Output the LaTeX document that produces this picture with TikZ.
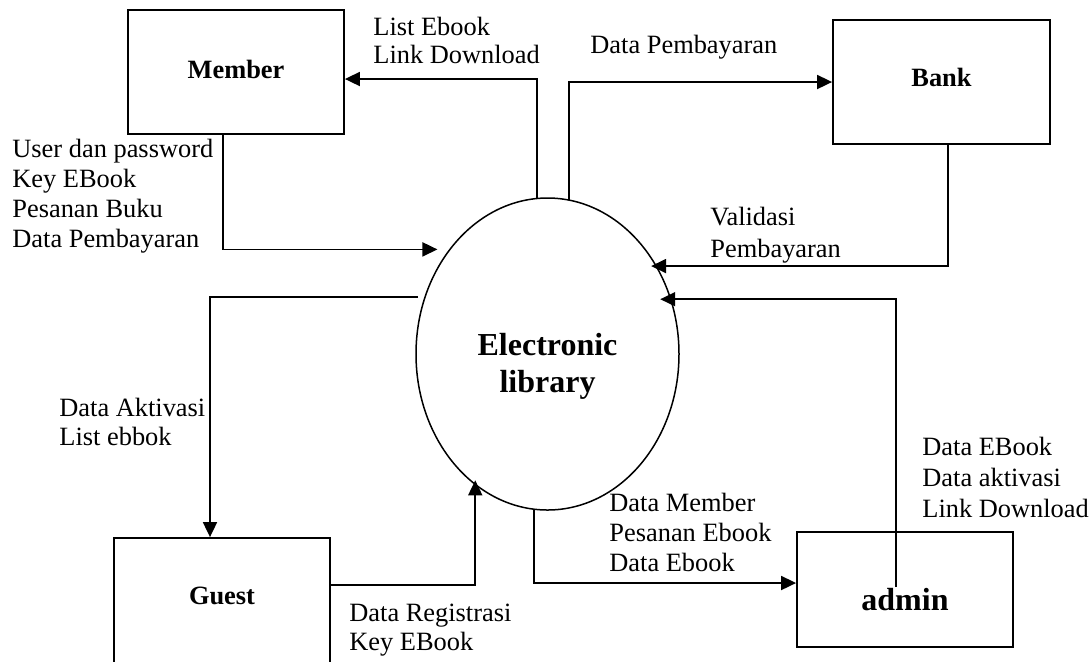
\documentclass[tikz,border=0pt]{standalone}
\usepackage{fontspec}
\setmainfont{Liberation Serif}
\usetikzlibrary{arrows.meta,shapes.geometric}

\tikzset{
  entity/.style={draw, line width=0.9pt, rectangle, inner sep=0pt,
    font=\fontsize{13.2}{15}\selectfont\bfseries},
  process/.style={draw, line width=0.75pt, ellipse, inner sep=0pt, outer sep=0pt,
    minimum width=131.5pt, minimum height=156pt},
  flow/.style={line width=0.9pt, -{Triangle[length=7.5pt,width=7pt]}},
  lbl/.style={anchor=north west, inner sep=0pt, align=left},
}

\begin{document}
\begin{tikzpicture}[x=0.5pt, y=-0.5pt]
  \useasboundingbox (0,0) rectangle (1092,661);
  \clip (0,0) rectangle (1092,661);

  % external entities
  \node[entity, minimum width=108pt, minimum height=62pt,
        text height=6.2pt, text depth=0pt] (member) at (236,72) {Member};
  \node[entity, minimum width=108.5pt, minimum height=62pt,
        text height=4.7pt, text depth=0pt] (bank) at (941.5,82) {Bank};
  \node[entity, minimum width=108pt, minimum height=66pt,
        text height=4pt, text depth=4pt] (guest) at (222,604) {Guest};
  \node[entity, minimum width=108pt, minimum height=57.5pt,
        font=\fontsize{16}{18}\selectfont\bfseries,
        text height=20.5pt, text depth=0pt] (admin) at (905,589.5) {admin};

  % the process
  \node[process] (lib) at (547.5,354) {};
  \node[align=center, inner sep=0pt, font=\fontsize{16}{18.5}\selectfont\bfseries]
    (libtext) at (547.5,366) {Electronic\\library};

  % data flows
  \draw[flow, shorten >=6.25pt] ([xshift=-6.5pt]member.south) |- (lib.133.3);
  \draw[flow] (lib.94.2) |- ([yshift=-3.5pt]member.east);
  \draw[flow] (lib.82.8) |- (bank.west);
  \draw[flow, shorten >=-2.5pt] ([xshift=3.25pt]bank.south) |- (lib.39);
  \draw[flow, shorten >=-5.2pt] ([xshift=-4.5pt,yshift=1.25pt]admin.center) |- (lib.24.07);
  \draw[flow, shorten <=3.5pt] (lib.155) -| ([xshift=-6pt]guest.north);
  \draw[flow, shorten >=-2pt] ([yshift=9.5pt]guest.east) -| (lib.241.4);
  \draw[flow] (lib.265.8) |- ([yshift=3.25pt]admin.west);

  % flow labels
  \node[lbl, font=\fontsize{13.2}{14}\selectfont] (lListEbook) at (373,17)
    {List Ebook\\Link Download};
  \node[lbl, font=\fontsize{13.2}{15}\selectfont] (lUser) at (12,139)
    {User dan password\\Key EBook\\Pesanan Buku\\Data Pembayaran};
  \node[lbl, font=\fontsize{13.2}{15}\selectfont] (lBayar) at (590,35)
    {Data Pembayaran};
  \node[lbl, font=\fontsize{13.2}{16}\selectfont] (lValid) at (710,207)
    {Validasi\\Pembayaran};
  \node[lbl, font=\fontsize{13.2}{14.5}\selectfont] (lAktivasi) at (59,398)
    {Data Aktivasi\\List ebbok};
  \node[lbl, font=\fontsize{13.2}{14.5}\selectfont] (lRegistrasi) at (349,604)
    {Data Registrasi\\Key EBook};
  \node[lbl, font=\fontsize{13.2}{15}\selectfont] (lMember) at (609,493)
    {Data Member\\Pesanan Ebook\\Data Ebook};
  \node[lbl, font=\fontsize{13.2}{15.5}\selectfont] (lAdmin) at (922,437)
    {Data EBook\\Data aktivasi\\Link Download};
\end{tikzpicture}
\end{document}
